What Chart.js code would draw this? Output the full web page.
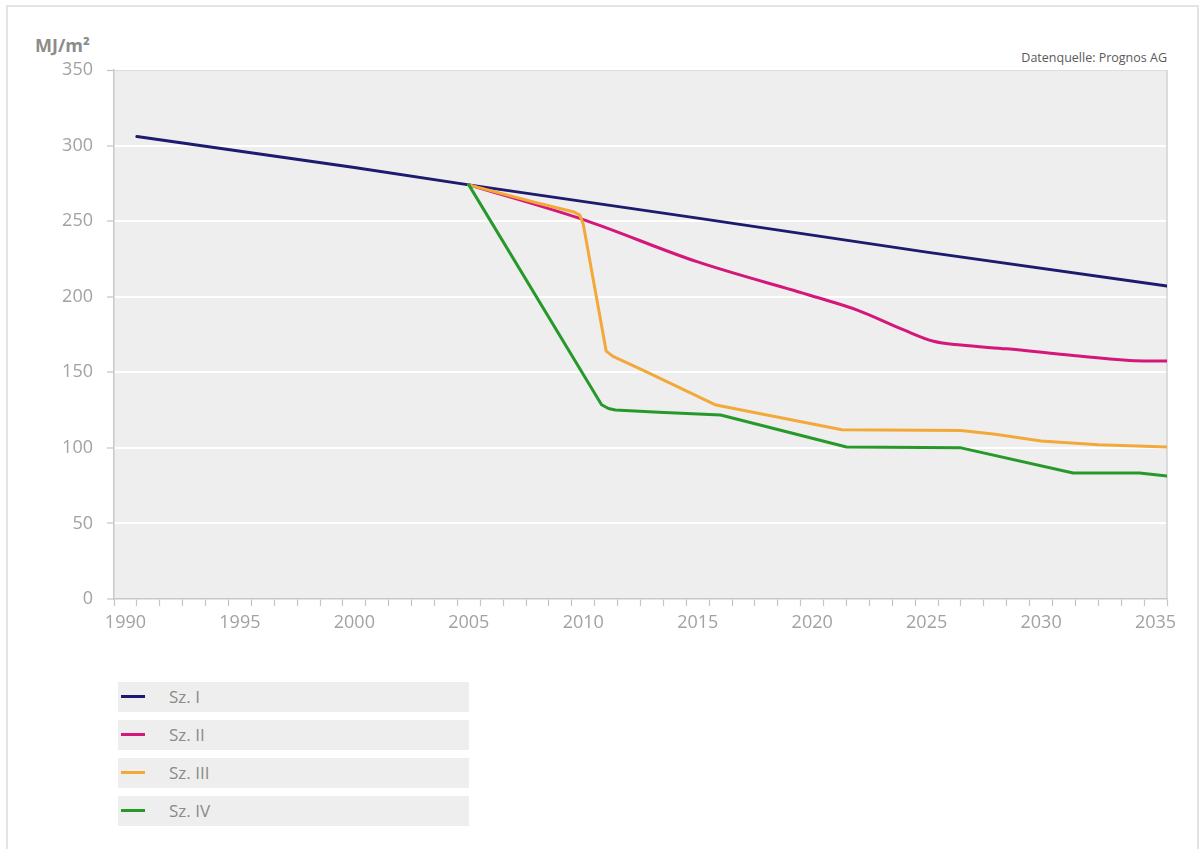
<!DOCTYPE html>
<html>
<head>
<meta charset="utf-8">
<script src="https://cdn.jsdelivr.net/npm/chart.js@4/dist/chart.umd.min.js"></script>
<style>
html,body{margin:0;padding:0;background:#fff;width:1199px;height:849px;overflow:hidden;font-family:"Open Sans","Noto Sans",sans-serif;}
#frame{position:absolute;left:6px;top:5px;width:1193px;height:900px;border:2px solid #e4e4e4;box-sizing:border-box;}
#wrap{position:absolute;left:0;top:0;width:1199px;height:660px;}
#unit{position:absolute;left:35px;top:33px;font-size:18px;font-weight:bold;color:#8c8c8c;}
#source{position:absolute;right:32px;top:49px;font-size:12.5px;color:#5a5a5a;}
#legend{position:absolute;left:118px;top:682px;width:351px;}
.item{height:30px;margin-bottom:8px;background:#eeeeee;position:relative;}
.item .sw{position:absolute;left:3px;top:13px;width:24px;height:3px;}
.item .tx{position:absolute;left:51px;top:3px;font-size:17px;color:#8a8a8a;line-height:24px;}
</style>
</head>
<body>
<div id="frame"></div>
<div id="unit">MJ/m²</div>
<div id="source">Datenquelle: Prognos AG</div>
<div id="wrap"><canvas id="c"></canvas></div>
<div id="legend"></div>
<script>
// ---- Data ----
const xYears = [];
for (let y = 1990; y <= 2035; y++) xYears.push(y);
const yTicks = [0, 50, 100, 150, 200, 250, 300, 350];
const seriesNames = ["Sz. I", "Sz. II", "Sz. III", "Sz. IV"];
const seriesColors = ["#1c1b6e", "#d4177b", "#f3a93a", "#27992b"];

const sz1Years  = [1990.5, 2000, 2005, 2015, 2025, 2035.5];
const sz1Values = [306, 285.5, 274, 252, 229.5, 207];

const sz2Years  = [2005, 2010, 2015, 2020, 2022, 2024, 2025.3, 2026.5, 2028.5, 2031.5, 2034.5, 2035.5];
const sz2Values = [274, 251, 223, 200.5, 191, 178, 170.5, 168, 165.5, 161, 157.5, 157.5];

const sz3Years  = [2005, 2008, 2009.6, 2009.85, 2010.0, 2011.0, 2011.3, 2012.6, 2015.8, 2021.3, 2026.5, 2028, 2030, 2032.5, 2035.5];
const sz3Values = [274, 262, 256, 254, 248, 164, 160.5, 151.5, 128.3, 112, 111.5, 109, 104.5, 102, 100.5];

const sz4Years  = [2005, 2010.8, 2011.1, 2011.4, 2013.3, 2016.0, 2021.5, 2026.5, 2031.4, 2034.3, 2035.5];
const sz4Values = [274, 128.5, 126, 125, 123.6, 121.7, 100.6, 100, 83.4, 83.4, 81.4];

const seriesYears = [sz1Years, sz2Years, sz3Years, sz4Years];
const seriesValues = [sz1Values, sz2Values, sz3Values, sz4Values];
const seriesSmooth = [false, true, false, false];

// ---- Build ----
const datasets = seriesNames.map((name, i) => ({
  label: name,
  data: seriesYears[i].map((x, k) => ({x: x, y: seriesValues[i][k]})),
  borderColor: seriesColors[i],
  backgroundColor: seriesColors[i],
  borderWidth: 3,
  pointRadius: 0,
  tension: 0,
  cubicInterpolationMode: seriesSmooth[i] ? 'monotone' : 'default',
  borderJoinStyle: 'round',
  borderCapStyle: 'round',
  fill: false
})).reverse();

const plotBg = {
  id: 'plotBg',
  beforeDraw(chart) {
    const {ctx, chartArea: a} = chart;
    ctx.save();
    ctx.fillStyle = '#eeeeee';
    ctx.fillRect(a.left, a.top, a.right - a.left, a.bottom - a.top);
    ctx.restore();
  },
  beforeDatasetsDraw(chart) {
    const {ctx, chartArea: a} = chart;
    ctx.save();
    ctx.strokeStyle = '#d2d2d2';
    ctx.lineWidth = 1.5;
    ctx.beginPath();
    ctx.moveTo(a.right, a.top);
    ctx.lineTo(a.right, a.bottom);
    ctx.stroke();
    ctx.restore();
  }
};

const tickFont = {family: '"Open Sans","Noto Sans",sans-serif', size: 18};

new Chart(document.getElementById('c'), {
  type: 'line',
  data: {datasets: datasets},
  plugins: [plotBg],
  options: {
    responsive: true,
    maintainAspectRatio: false,
    animation: false,
    layout: {padding: {left: 0, right: 32, top: 70, bottom: 0}},
    plugins: {legend: {display: false}, tooltip: {enabled: false}},
    scales: {
      x: {
        type: 'linear',
        min: 1989.5,
        max: 2035.5,
        afterBuildTicks(scale) { scale.ticks = xYears.map(v => ({value: v})); },
        afterFit(scale) { scale.height = 61; },
        ticks: {
          autoSkip: false,
          maxRotation: 0,
          padding: 6,
          color: '#a2a2a2',
          font: tickFont,
          callback: (v) => (v % 5 === 0 ? String(v) : '')
        },
        grid: {
          offset: true,
          drawOnChartArea: false,
          drawTicks: true,
          tickLength: 7,
          tickColor: '#c4c4c4',
          tickWidth: 1.2,
          color: '#c4c4c4'
        },
        border: {display: true, color: '#c8c8c8', width: 1.5}
      },
      y: {
        type: 'linear',
        min: 0,
        max: 350,
        afterBuildTicks(scale) { scale.ticks = yTicks.map(v => ({value: v})); },
        afterFit(scale) { scale.width = 114; },
        ticks: {
          padding: 14,
          color: '#a2a2a2',
          font: tickFont
        },
        grid: {
          drawTicks: true,
          tickLength: 7,
          tickColor: '#c4c4c4',
          tickWidth: 1.2,
          color: (c) => (c.tick && c.tick.value === 0 ? 'rgba(0,0,0,0)' : (c.tick && c.tick.value === 350 ? '#dddddd' : '#ffffff')),
          lineWidth: (c) => (c.tick && c.tick.value === 350 ? 1 : 2)
        },
        border: {display: true, color: '#c8c8c8', width: 1.5}
      }
    }
  }
});

// ---- HTML legend built from the same series ----
const lg = document.getElementById('legend');
seriesNames.forEach((name, i) => {
  const it = document.createElement('div');
  it.className = 'item';
  const sw = document.createElement('div');
  sw.className = 'sw';
  sw.style.background = seriesColors[i];
  const tx = document.createElement('div');
  tx.className = 'tx';
  tx.textContent = name;
  it.appendChild(sw);
  it.appendChild(tx);
  lg.appendChild(it);
});
</script>
</body>
</html>
